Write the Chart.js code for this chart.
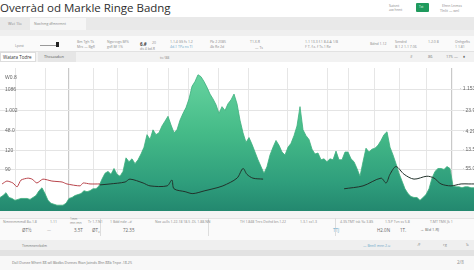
<!DOCTYPE html>
<html>
<head>
<meta charset="utf-8">
<script src="https://cdn.jsdelivr.net/npm/chart.js@4.4.1/dist/chart.umd.min.js"></script>
<style>
  html, body { margin: 0; padding: 0; background: #fff; }
  body { width: 474px; height: 270px; position: relative; overflow: hidden; font-family: "Open Sans", "Liberation Sans", sans-serif; }
  .box { position: absolute; }
  .t { position: absolute; white-space: nowrap; line-height: 1; color: #8a8a8a; }
  #chartWrap { position: absolute; left: 0; top: 60px; width: 474px; height: 160px; }
</style>
</head>
<body>
<div id="chrome"></div>
<div id="chartWrap"><canvas id="marketChart" width="474" height="160"></canvas></div>
<script>
// area series, one value every step on the day axis
const days = Array.from({ length: 159 }, (_, i) => i);
const volume = [
  14, 16, 19, 14, 13, 11, 12, 13, 13, 13, 12, 14, 16, 21, 24, 18, 11, 8, 7, 6,
  6, 6, 8, 13, 14, 16, 17, 18, 21, 20, 21, 23, 23, 26, 33, 39, 41, 38, 44, 38,
  36, 41, 55, 51, 54, 49, 53, 59, 66, 79, 74, 84, 79, 81, 88, 93, 98, 89, 81, 84,
  94, 101, 107, 116, 129, 134, 141, 139, 134, 128, 121, 116, 110, 101, 108, 104, 111, 115, 121, 111,
  94, 81, 71, 76, 69, 61, 53, 46, 39, 46, 58, 66, 73, 68, 61, 58, 66, 70, 78, 88,
  108, 84, 78, 74, 64, 59, 60, 53, 54, 51, 54, 53, 62, 53, 53, 61, 61, 54, 51, 44,
  36, 51, 65, 61, 64, 65, 68, 73, 79, 82, 66, 58, 49, 39, 31, 23, 18, 15, 14, 14,
  11, 14, 17, 23, 34, 41, 44, 44, 43, 46, 44, 26, 25, 25, 24, 25, 25, 24, 24
];

const redDays = [0.7, 2.3, 4.3, 5.7, 7, 9.3, 10.7, 12.3, 14.3, 17.3, 20.7, 22.3, 26.7, 27.7, 30, 33.3];
const redValues = [28, 31, 29, 25, 32, 34, 33, 29, 33, 31, 30, 28, 26, 29, 28, 28];

const trendDays = [33.3, 36.7, 41.7, 43.3, 47.7, 50, 55.7, 57.3, 58, 61.7, 64.3, 68.3, 71, 74.3, 79, 81, 82.3, 84.3, 87.7,
  100, 114.7, 121, 127, 128.7, 130, 132, 134.7, 138, 142.3, 144.7, 147, 150.3, 153.7, 156.3, 158];
const trendValues = [27, 28, 30, 33, 29, 26, 26, 32, 23, 20, 18, 21, 23, 26, 34, 44, 38, 34, 33,
  null, 23, 26, 34, 29, 38, 46, 38, 33, 36, 34, 28, 26, 28, 28, 28];

const leftTicks = [138, 126, 104, 83, 63, 43];
const leftLabels = ["W0.8", "1086", "1.002", "48.0", "120", "90"];
const rightTicks = [127, 104, 82, 64, 44];
const rightLabels = ["1.1538", "23.96", "4.293", "13.58", "55.08"];

const dateTicks = [6, 14.3, 29.3, 41.7, 66, 80.7, 91.7, 109.3, 124, 135, 141.7, 151.7];
const dateLabels = ["4.4", "14.1.2018 ft", "7.08 pt.8", "5000 ft", "4.7.18", "99", "14.1.10.8", "01 138", "1499 11 8d", "1.09.15 Pd", "ss", "LA.UNN.AH"];
const gridDays = [5, 15, 22.7, 31, 39.3, 49, 56, 62.7, 72.7, 82.7, 95.7, 109, 116.3, 124.7, 133, 142, 150.7];

// page chrome
const chrome = document.getElementById("chrome");
function box(x, y, w, h, bg, extra) {
  const d = document.createElement("div");
  d.className = "box";
  d.style.cssText = `left:${x}px;top:${y}px;width:${w}px;height:${h}px;background:${bg};${extra || ""}`;
  chrome.appendChild(d);
}
function txt(x, y, s, size, color, weight) {
  const d = document.createElement("div");
  d.className = "t";
  d.textContent = s;
  d.style.cssText = `left:${x}px;top:${y}px;font-size:${size || 4}px;${color ? "color:" + color + ";" : ""}${weight ? "font-weight:" + weight + ";" : ""}`;
  chrome.appendChild(d);
}

box(0, 17, 474, 13, "#e9e9e9");
box(30, 18, 56, 13, "#f6f6f6");
box(0, 30, 474, 6, "#efefef");
box(0, 36, 474, 16, "#fafafa", "border-bottom:1px solid #e2e2e2;box-sizing:border-box;");
box(0, 52, 474, 10, "#f2f2f2");
box(0, 52, 36, 10, "#fff", "border:1px solid #ddd;box-sizing:border-box;");
box(38, 52, 38, 10, "#e6e6e6");
box(0, 211, 474, 7, "#f4f4f4");
box(0, 218, 474, 22, "#fafafa", "border-top:1px solid #e4e4e4;box-sizing:border-box;");
box(100, 218, 1, 18, "#ddd");
box(208, 218, 1, 18, "#ddd");
box(335, 218, 1, 18, "#ddd");
box(0, 240, 474, 10, "#efefef");
box(0, 250, 474, 6, "#e2e2e2");
box(0, 256, 474, 14, "#f8f8f8");
box(416, 3, 13, 9, "#1f9a5d", "border-radius:1px;");

txt(0, 2, "Overràd od Markle Ringe Badng", 11.5, "#2e2e2e");
txt(389, 4, "Satsnt", 3.5);
txt(389, 8, "aw   hnnt", 3.5);
txt(419, 6, "Txt", 3, "#e6fff0");
txt(442, 4, "Ehnn    Lnmss", 3.5);
txt(440, 9, "Tlnlit  —  wnl", 3.5);
txt(8, 22, "Wei   1lo", 4, "#888");
txt(34, 22, "Nwchmg  dfmnrmnt", 3.5, "#888");

txt(15, 44, "Lpest", 3.5);
box(40, 45, 18, 1, "#999");
box(56, 42, 3, 5, "#222");
txt(77, 40, "Bm   Tgh   Tk", 3.5);
txt(77, 45, "Mrs   —   Bgfl", 3.5);
txt(107, 40, "Ngsrcvgs  Bf%", 3.5);
txt(107, 45, "gsfl   Bf 1%", 3.5);
txt(140, 42, "6.#", 4.5, "#444", "bold");
txt(152, 41, "20", 3.5);
txt(140, 47, "ds 4  bd.R", 3.5);
txt(170, 40, "1.1.4  GS   fs  1.2", 3.5);
txt(170, 45, "4d.1  TPa  ns  Tl", 3.5, "#6aa8c8");
txt(210, 40, "Pb   2  2085", 3.5);
txt(210, 45, "4b   Re   2d", 3.5);
txt(250, 40, "T1.X.R", 3.5);
txt(255, 46, "—   Ts", 3.5);
txt(305, 40, "1.1  13.3  f.1  8.4.A  1/8", 3.5);
txt(305, 45, "F   T.  f.s.  f   Ts.1  Re", 3.5);
txt(370, 42, "Bdnd 1.12", 3.5);
txt(395, 40, "Sendrd", 3.5);
txt(395, 45, "B 1 2   1.1  7.06", 3.5);
txt(428, 40, "1.2.0  8", 3.5);
txt(455, 40, "Onhgefts", 3.5);
txt(455, 45, "1  1.81", 3.5);

txt(3, 55, "Watara Todre", 4.5, "#333");
txt(44, 55, "Thcsasdon", 4, "#555");
txt(160, 56, "tv ⁄ 88", 3.5);
txt(410, 55, "#", 4, "#777");
txt(428, 55, "86", 4, "#777");
txt(446, 55, "175 —", 4, "#777");
txt(463, 55, "♦", 4, "#555");

txt(3, 220, "Nmnnmmmdl  8u.1.8", 3.5);
txt(50, 220, "1.11", 3.5);
txt(70, 218, "1mm", 3);
txt(70, 221, "mn mn", 3.5);
txt(88, 220, "Tr 1.7.N1", 3.5);
txt(110, 220, "1 Bdd nde  ℳ", 3.5);
txt(22, 228, "ØT½", 4.5, "#666");
txt(47, 228, "—", 4);
txt(74, 228, "3.5T", 4.5, "#666");
txt(92, 228, "ØT₄", 4.5, "#666");
txt(123, 228, "72.35", 4.5, "#666");
txt(155, 220, "Nez aolls   1.22.18   18.5   .DL   1.88.NN", 3.5);
txt(240, 220, "TH  1.848   Tnrs   Dsthd  bn.1.22", 3.5);
txt(300, 220, "1.3.1   ss1.3", 3.5);
txt(333, 228, "TTJ", 4.5, "#6aa8c8");
txt(340, 220, "4.3S.TMT   tsk  ‰   3.8S", 3.5);
txt(385, 220, "1.9.P   Tvn  ss  5.8", 3.5);
txt(430, 220, "T.MT    TMK   Jk 1", 3.5);
txt(377, 228, "H2.0N", 4.5, "#666");
txt(400, 228, "1T.", 4.5, "#666");
txt(420, 228, "→   Bld  1.RJ", 4, "#666");
txt(22, 244, "Ttmmnenrbdm", 3.5, "#777");
txt(363, 244, "—   Bnnll mnn 2.u", 3.5, "#6aa8c8");
txt(418, 243, "⁄F", 4, "#888");
txt(443, 243, "rg", 4, "#888");
txt(466, 243, "Ъ", 4, "#888");
txt(12, 261, "Dall     Donee     Mhert 88     wll      Bbdbs      Dsnnes      Rtan    Jatnds 8hn 88b     Tnpe .18.25", 3.6, "#777");
txt(457, 260, "2/8", 4.5, "#888");

function greenFill(context) {
  const { ctx, chartArea } = context.chart;
  if (!chartArea) return "#45b987";
  const g = ctx.createLinearGradient(0, chartArea.top, 0, chartArea.bottom);
  g.addColorStop(0, "#6ad6a2");
  g.addColorStop(0.45, "#45bb88");
  g.addColorStop(0.8, "#2f9e7c");
  g.addColorStop(1, "#23886f");
  return g;
}

new Chart(document.getElementById("marketChart"), {
  type: "line",
  data: {
    datasets: [
      {
        label: "Trend",
        data: trendDays.map((d, i) => ({ x: d, y: trendValues[i] })),
        borderColor: "#22322b",
        borderWidth: 1,
        pointRadius: 0,
        tension: 0.3,
        spanGaps: false,
        fill: false,
        order: 1
      },
      {
        label: "Ringe",
        data: redDays.map((d, i) => ({ x: d, y: redValues[i] })),
        borderColor: "#b8434a",
        borderWidth: 1,
        pointRadius: 0,
        tension: 0.2,
        fill: false,
        order: 2
      },
      {
        label: "Volume",
        data: days.map((d, i) => ({ x: d, y: volume[i] })),
        borderColor: "#3cae7c",
        borderWidth: 0.8,
        backgroundColor: greenFill,
        pointRadius: 0,
        tension: 0,
        fill: "start",
        order: 3
      }
    ]
  },
  options: {
    responsive: false,
    animation: false,
    layout: { padding: { top: 3, left: 0, right: 0, bottom: 0 } },
    plugins: { legend: { display: false }, tooltip: { enabled: false } },
    scales: {
      x: {
        type: "linear", min: 0, max: 158,
        afterBuildTicks: (s) => { s.ticks = dateTicks.map((v) => ({ value: v })); },
        afterFit: (s) => { s.height = 9; },
        ticks: {
          autoSkip: false, maxRotation: 0, padding: 2,
          color: "#888", font: { size: 4.5 },
          callback: (v, i) => dateLabels[i]
        },
        grid: { display: false },
        border: { display: false }
      },
      xg: {
        type: "linear", min: 0, max: 158, position: "bottom",
        afterBuildTicks: (s) => { s.ticks = gridDays.map((v) => ({ value: v })); },
        afterFit: (s) => { s.height = 0; },
        ticks: { display: false },
        grid: {
          drawTicks: false,
          color: (c) => (c.index === 2 || c.index === 16 ? "#c9c9c9" : "#e6e6e6"),
          lineWidth: (c) => (c.index === 2 || c.index === 16 ? 1.2 : 1)
        },
        border: { display: false }
      },
      y: {
        min: 0, max: 148, position: "left",
        afterBuildTicks: (s) => { s.ticks = leftTicks.map((v) => ({ value: v })); },
        afterFit: (s) => { s.width = 0; },
        ticks: { mirror: true, padding: 5, color: "#666", font: { size: 5 }, callback: (v, i) => leftLabels[i] },
        grid: { drawTicks: false, color: (c) => (c.index === 0 ? "rgba(0,0,0,0)" : "#e4e4e4") },
        border: { display: false }
      },
      y2: {
        min: 0, max: 148, position: "right",
        afterBuildTicks: (s) => { s.ticks = rightTicks.map((v) => ({ value: v })); },
        afterFit: (s) => { s.width = 0; },
        ticks: { mirror: true, padding: 4, color: "#666", font: { size: 5 }, callback: (v, i) => "· " + rightLabels[i] },
        grid: { display: false },
        border: { display: false }
      }
    }
  }
});
</script>
</body>
</html>
